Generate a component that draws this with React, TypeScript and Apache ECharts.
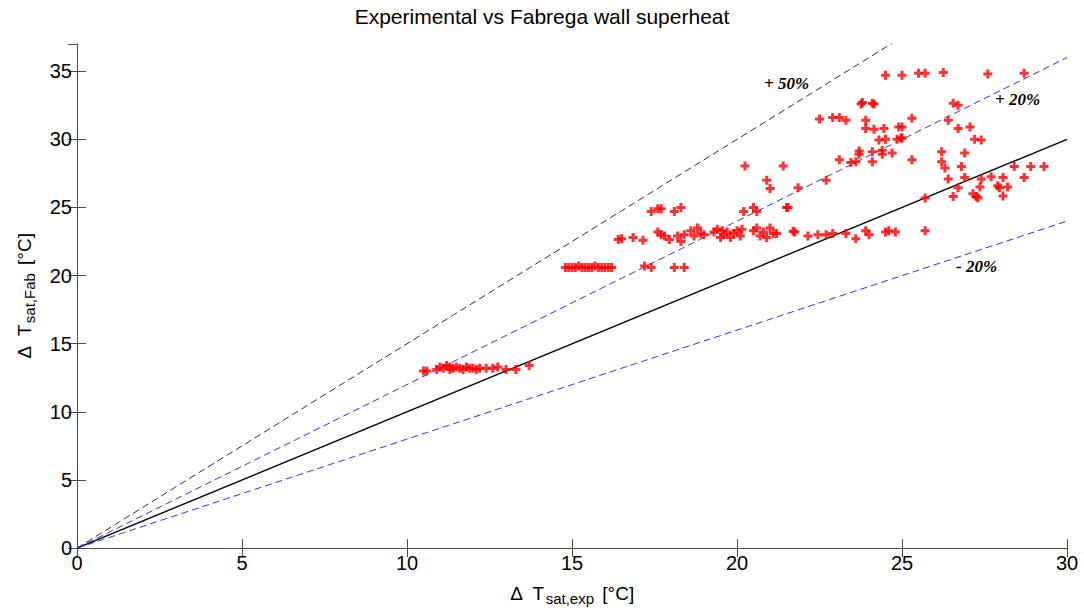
import React, { useEffect, useRef } from "react";
import * as echarts from "echarts";

const xTicks = { min: 0, max: 30, interval: 5 };
const yTicks = { min: 0, max: 37, interval: 5 };

// Experimental superheat (x) and Fabrega prediction (y), in °C
const expValues = [
  // cluster ~13
  10.5, 10.6, 10.9, 11.0, 11.1, 11.2, 11.3, 11.3, 11.4, 11.5, 11.6, 11.7, 11.8, 11.9, 12.0, 12.1, 12.2, 12.4, 12.6, 12.75, 13.0, 13.3, 13.7,
  // cluster ~20.6
  14.8, 14.9, 15.0, 15.1, 15.2, 15.3, 15.4, 15.5, 15.6, 15.7, 15.8, 15.9, 16.0, 16.1, 16.2, 17.2, 17.4, 18.1, 18.4,
  // row ~23
  16.4, 16.5, 16.85, 17.15, 17.6, 17.7, 17.8, 17.95, 18.2, 18.3, 18.4, 18.6, 18.7, 18.8, 18.9, 19.0, 19.3, 19.4, 19.5, 19.55, 19.6, 19.7, 19.8, 19.9, 20.0, 20.1, 20.15,
  20.5, 20.6, 20.7, 20.8, 20.9, 21.0, 21.1, 21.2, 21.7, 21.75, 22.15, 22.45, 22.7, 22.9, 23.3, 23.6, 23.9, 24.0, 24.5, 24.6, 24.8, 25.7,
  // row ~25
  17.4, 17.6, 17.7, 18.1, 18.3, 20.2, 20.5, 20.6, 21.5, 21.55,
  // mid band
  20.24, 21.4, 20.9, 21.0, 21.85, 22.7,
  // upper region
  24.5, 25.0, 25.5, 25.7, 26.25, 27.6, 28.7,
  23.76, 23.8, 24.1, 24.15, 26.55, 26.7,
  22.5, 22.9, 23.1, 23.3, 23.9, 25.3, 26.4,
  23.9, 24.15, 24.45, 24.9, 25.0, 26.7, 27.06,
  24.3, 24.5, 24.85, 24.97, 25.0, 27.2, 27.4,
  23.7, 23.7, 24.1, 24.4, 24.4, 24.7, 26.2, 26.9,
  23.1, 23.45, 23.6, 24.1, 25.3, 26.2,
  26.3, 26.8, 28.4, 28.9, 29.3,
  26.4, 26.9, 27.4, 27.7, 28.06, 28.7,
  26.7, 27.36, 27.9, 27.95, 28.2,
  25.7, 26.55, 27.15, 27.25, 27.3, 28.06,
];

const fabValues = [
  13.0, 13.0, 13.1, 13.3, 13.2, 13.4, 13.1, 13.3, 13.2, 13.3, 13.2, 13.1, 13.3, 13.2, 13.2, 13.1, 13.2, 13.2, 13.2, 13.3, 13.1, 13.1, 13.4,
  20.6, 20.6, 20.6, 20.6, 20.7, 20.6, 20.6, 20.6, 20.6, 20.7, 20.6, 20.6, 20.6, 20.6, 20.6, 20.7, 20.6, 20.6, 20.6,
  22.65, 22.7, 22.8, 22.6, 23.2, 23.0, 22.9, 22.65, 22.9, 22.5, 23.0, 23.3, 22.9, 23.5, 23.1, 23.0, 23.2, 23.4, 22.8, 23.3, 23.0, 23.2, 22.8, 23.1, 23.3, 22.9, 23.4,
  23.3, 23.5, 22.9, 23.2, 22.8, 23.5, 23.1, 23.1, 23.25, 23.2, 22.9, 23.0, 23.0, 23.1, 23.1, 22.7, 23.3, 23.0, 23.2, 23.3, 23.2, 23.3,
  24.7, 24.9, 24.9, 24.7, 25.0, 24.7, 25.0, 24.7, 25.0, 25.0,
  28.05, 28.05, 27.0, 26.4, 26.45, 27.0,
  34.7, 34.7, 34.85, 34.85, 34.9, 34.8, 34.85,
  32.6, 32.7, 32.66, 32.6, 32.66, 32.5,
  31.5, 31.6, 31.6, 31.4, 31.4, 31.55, 31.4,
  30.8, 30.75, 30.8, 30.9, 30.9, 30.8, 30.9,
  29.96, 30.0, 30.0, 30.1, 30.1, 30.0, 29.96,
  29.15, 28.9, 29.1, 29.2, 28.9, 29.0, 29.1, 29.0,
  28.5, 28.3, 28.35, 28.35, 28.5, 28.35,
  27.9, 28.0, 28.0, 28.0, 28.0,
  27.1, 27.2, 27.1, 27.25, 27.2, 27.2,
  26.45, 26.5, 26.6, 26.45, 26.5,
  25.7, 25.8, 26.0, 25.8, 25.7, 25.85,
];

// Reference lines: ratio of predicted to experimental
const refRatios = [1.0, 1.2, 0.8, 1.5];
const refLabels = ["", "+ 20%", "- 20%", "+ 50%"];

const plusSymbol = "path://M3,0H6V3H9V6H6V9H3V6H0V3H3Z";

export default function App() {
  const ref = useRef<HTMLDivElement>(null);

  useEffect(() => {
    if (!ref.current) return;
    const chart = echarts.init(ref.current, undefined, { renderer: "svg" });
    const points = expValues.map((x, i) => [x, fabValues[i]]);
    const lineStyles = [
      { color: "#000000", width: 1.4, type: "solid" },
      { color: "#3333ff", width: 1, type: [7, 4] },
      { color: "#3333ff", width: 1, type: [7, 4] },
      { color: "#333333", width: 1, type: [7, 4] },
    ];
    const lineSeries = refRatios.map((r, i) => ({
      type: "line",
      name: refLabels[i],
      data: [
        [xTicks.min, xTicks.min * r],
        [xTicks.max, xTicks.max * r],
      ],
      symbol: "none",
      clip: true,
      lineStyle: lineStyles[i],
      z: 2,
      silent: true,
    }));

    const labelFont = "Liberation Sans, Arial, sans-serif";
    const axisColor = "#4a4a4a";
    const common = {
      axisLine: { show: true, lineStyle: { color: axisColor, width: 1 } },
      splitLine: { show: false },
    };
    const tick = { show: true, inside: true, length: 9, lineStyle: { color: axisColor } };
    const nameRich = {
      a: { fontFamily: labelFont, fontSize: 19, color: "#000", lineHeight: 22, verticalAlign: "top" },
      b: { fontFamily: labelFont, fontSize: 15, color: "#000", lineHeight: 16, verticalAlign: "bottom", padding: [13, 3, 0, 1] },
    };
    const serifLbl = "italic bold 17px 'Liberation Serif', 'Times New Roman', serif";

    chart.setOption({
      animation: false,
      backgroundColor: "#ffffff",
      title: {
        text: "Experimental vs Fabrega wall superheat",
        left: "center",
        top: 1,
        textStyle: { fontFamily: labelFont, fontSize: 21, fontWeight: "normal", color: "#000" },
      },
      grid: { left: 77, right: 17, top: 44, bottom: 61, containLabel: false },
      xAxis: [
        {
          type: "value",
          ...xTicks,
          ...common,
          axisTick: tick,
          axisLabel: { color: "#000", fontFamily: labelFont, fontSize: 20, margin: 5 },
          name: "{a|Δ  T}{b|sat,exp}{a| [°C]}",
          nameLocation: "middle",
          nameGap: 32,
          nameTextStyle: { rich: nameRich },
        },
        {
          type: "value",
          position: "top",
          ...xTicks,
          ...common,
          axisTick: tick,
          axisLabel: { show: false },
        },
      ],
      yAxis: [
        {
          type: "value",
          ...yTicks,
          ...common,
          axisTick: tick,
          axisLabel: {
            color: "#000",
            fontFamily: labelFont,
            fontSize: 20,
            margin: 5,
            showMaxLabel: false,
          },
          name: "{a|Δ  T}{b|sat,Fab}{a| [°C]}",
          nameLocation: "middle",
          nameGap: 40,
          nameRotate: 90,
          nameTextStyle: { rich: nameRich },
        },
        {
          type: "value",
          position: "right",
          ...yTicks,
          ...common,
          axisTick: tick,
          axisLabel: { show: false },
        },
      ],
      series: [
        ...lineSeries,
        {
          type: "scatter",
          data: points,
          symbol: plusSymbol,
          symbolSize: 9,
          itemStyle: { color: "#ff0000" },
          z: 3,
        },
      ],
      graphic: [
        { type: "text", left: 764, top: 75, style: { text: "+ 50%", font: serifLbl, fill: "#000" } },
        { type: "text", left: 995, top: 91, style: { text: "+ 20%", font: serifLbl, fill: "#000" } },
        { type: "text", left: 956, top: 258, style: { text: "- 20%", font: serifLbl, fill: "#000" } },
      ],
    });
    return () => chart.dispose();
  }, []);

  return (
    <div
      ref={ref}
      style={{ position: "fixed", left: 0, top: 0, width: 1084, height: 611 }}
    />
  );
}
